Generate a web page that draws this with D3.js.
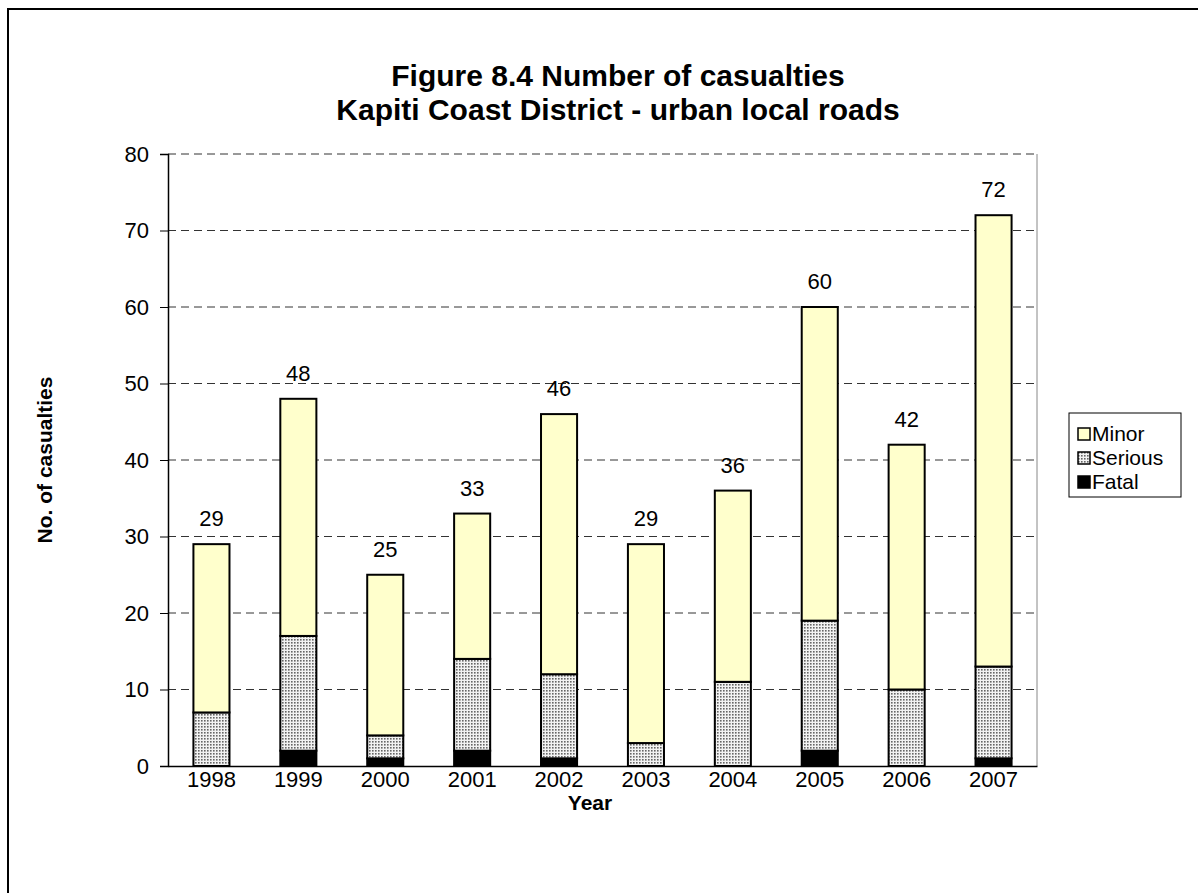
<!DOCTYPE html>
<html><head><meta charset="utf-8">
<script src="https://cdn.jsdelivr.net/npm/d3@7"></script>
<style>body{margin:0;background:#fff}svg{display:block}text{font-family:"Liberation Sans",Arial,sans-serif}</style>
</head><body>
<svg id="c" width="1198" height="893"></svg>
<script>
const years = ["1998","1999","2000","2001","2002","2003","2004","2005","2006","2007"];
const fatal = [0,2,1,2,1,0,0,2,0,1];
const serious = [7,15,3,12,11,3,11,17,10,12];
const minor = [22,31,21,19,34,26,25,41,32,59];
const seriesNames = ["Fatal","Serious","Minor"];
const yTicks = [0,10,20,30,40,50,60,70,80];
const titleLines = ["Figure 8.4 Number of casualties","Kapiti Coast District - urban local roads"];

const FONT = "Liberation Sans, Arial, sans-serif";
const svg = d3.select("#c");
const defs = svg.append("defs");
const pat = defs.append("pattern").attr("id","dots").attr("patternUnits","userSpaceOnUse").attr("width",3).attr("height",3);
pat.append("rect").attr("width",3).attr("height",3).attr("fill","#f2f2f2");
pat.append("rect").attr("x",0).attr("y",0).attr("width",1.6).attr("height",1.6).attr("fill","#666");

const fills = {Minor:"#FFFFCC", Serious:"url(#dots)", Fatal:"#000"};

// outer border
svg.append("rect").attr("x",8).attr("y",9).attr("width",1200).attr("height",900).attr("fill","none").attr("stroke","#000").attr("stroke-width",2);

const L=168, R=1037, T=154, B=766;
const x = d3.scaleBand().domain(years).range([L,R]).paddingInner(0.585).paddingOuter(0.2925);
const y = d3.scaleLinear().domain([0,80]).range([B,T]);

// title
svg.append("g").selectAll("text").data(titleLines).join("text")
  .attr("x",618).attr("y",(d,i)=>86+i*34).attr("text-anchor","middle")
  .attr("font-weight","bold").attr("font-size",30).text(d=>d);

// gridlines
svg.append("g").selectAll("line").data(yTicks.filter(d=>d>0)).join("line")
  .attr("x1",L).attr("x2",R).attr("y1",d=>y(d)).attr("y2",d=>y(d))
  .attr("stroke","#333").attr("stroke-width",1).attr("stroke-dasharray","8,5");
// right border
svg.append("line").attr("x1",R).attr("x2",R).attr("y1",T).attr("y2",B).attr("stroke","#888").attr("stroke-width",1);

// y axis
const yAxis = svg.append("g").attr("transform",`translate(${L},0)`)
  .call(d3.axisLeft(y).tickValues(yTicks).tickSize(8).tickPadding(11));
yAxis.select(".domain").attr("stroke","#000").attr("stroke-width",1.5);
yAxis.selectAll(".tick line").attr("stroke","#000");
yAxis.selectAll("text").attr("font-size",22).attr("fill","#000").attr("font-family",FONT);

// stacks
const rows = years.map((yr,i)=>({year:yr, Fatal:fatal[i], Serious:serious[i], Minor:minor[i]}));
const stack = d3.stack().keys(seriesNames)(rows);
const g = svg.append("g");
stack.forEach(s=>{
  g.append("g").selectAll("rect").data(s).join("rect")
    .attr("x",d=>x(d.data.year)).attr("width",x.bandwidth())
    .attr("y",d=>y(d[1])).attr("height",d=>y(d[0])-y(d[1]))
    .attr("fill",fills[s.key]).attr("stroke","#000").attr("stroke-width",2);
});

// x axis
const xAxis = svg.append("g").attr("transform",`translate(0,${B})`)
  .call(d3.axisBottom(x).tickSize(0).tickPadding(5));
xAxis.select(".domain").attr("stroke","#000").attr("stroke-width",1.5);
xAxis.selectAll("text").attr("font-size",22).attr("fill","#000").attr("font-family",FONT);

// totals
svg.append("g").selectAll("text").data(rows).join("text")
  .attr("x",d=>x(d.year)+x.bandwidth()/2)
  .attr("y",d=>y(d.Fatal+d.Serious+d.Minor)-18)
  .attr("text-anchor","middle").attr("font-size",22)
  .text(d=>d.Fatal+d.Serious+d.Minor);

// axis titles
svg.append("text").attr("x",590).attr("y",810).attr("text-anchor","middle").attr("font-weight","bold").attr("font-size",21).text("Year");
svg.append("text").attr("transform","translate(52,460) rotate(-90)").attr("text-anchor","middle").attr("font-weight","bold").attr("font-size",21).text("No. of casualties");

// legend
const lg = svg.append("g");
lg.append("rect").attr("x",1069).attr("y",413).attr("width",112).attr("height",84).attr("fill","#fff").attr("stroke","#000").attr("stroke-width",1);
const legItems = ["Minor","Serious","Fatal"];
const li = lg.selectAll("g").data(legItems).join("g").attr("transform",(d,i)=>`translate(1078,${428+i*24})`);
li.append("rect").attr("width",12).attr("height",12).attr("fill",d=>fills[d]).attr("stroke","#000").attr("stroke-width",1.5);
li.append("text").attr("x",14).attr("y",13).attr("font-size",21).text(d=>d);
</script>
</body></html>
